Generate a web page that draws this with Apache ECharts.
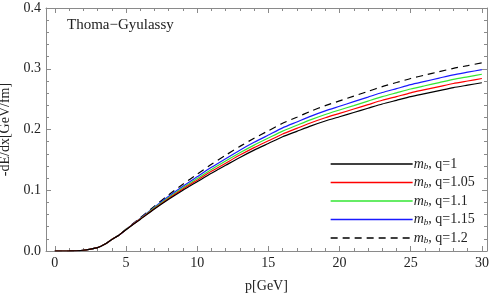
<!DOCTYPE html>
<html>
<head>
<meta charset="utf-8">
<script src="https://cdn.jsdelivr.net/npm/echarts@6/dist/echarts.min.js"></script>
<style>html,body{margin:0;padding:0;background:#fff}#c{width:491px;height:294px}</style>
</head>
<body>
<div id="c"></div>
<script>
// momentum p [GeV]
var P = [0,0.5,1,1.5,2,2.5,3,3.5,4,4.5,5,6,7,8,9,10,11,12,13,14,15,16,17,18,19,20,21,22,23,24,25,26,27,28,29,30];
// -dE/dx [GeV/fm]
var q100 = [0,0,0.0001,0.0004,0.0012,0.003,0.0055,0.011,0.019,0.026,0.035,0.052,0.069,0.085,0.100,0.114,0.128,0.141,0.154,0.166,0.177,0.188,0.197,0.206,0.214,0.221,0.228,0.235,0.242,0.248,0.254,0.259,0.264,0.269,0.273,0.277];
var q105 = [0,0,0.0001,0.0004,0.0012,0.003,0.0055,0.011,0.019,0.026,0.0352,0.0525,0.0700,0.0866,0.1021,0.1166,0.1311,0.1445,0.1579,0.1702,0.1814,0.1927,0.2019,0.2112,0.2194,0.2265,0.2337,0.2409,0.2481,0.2542,0.2604,0.2655,0.2706,0.2757,0.2798,0.2839];
var q110 = [0,0,0.0001,0.0004,0.0012,0.003,0.0055,0.011,0.019,0.026,0.0354,0.0530,0.0711,0.0882,0.1043,0.1192,0.1342,0.1481,0.1617,0.1743,0.1859,0.1974,0.2069,0.2163,0.2247,0.2321,0.2394,0.2468,0.2541,0.2604,0.2667,0.2720,0.2772,0.2825,0.2867,0.2909];
var q115 = [0,0,0.0001,0.0004,0.0012,0.003,0.0055,0.011,0.019,0.026,0.0355,0.0536,0.0722,0.0900,0.1066,0.1222,0.1377,0.1520,0.1660,0.1789,0.1908,0.2027,0.2124,0.2221,0.2307,0.2382,0.2458,0.2533,0.2609,0.2673,0.2738,0.2792,0.2846,0.2900,0.2943,0.2986];
var q120 = [0,0,0.0001,0.0004,0.0012,0.003,0.0055,0.011,0.019,0.026,0.0358,0.0545,0.0739,0.0925,0.1100,0.1264,0.1427,0.1576,0.1722,0.1856,0.1979,0.2102,0.2202,0.2303,0.2393,0.2471,0.2549,0.2627,0.2706,0.2773,0.2840,0.2896,0.2952,0.3007,0.3052,0.3097];

var seriesNames = ['q=1','q=1.05','q=1.1','q=1.15','q=1.2'];
var seriesValues = [q100,q105,q110,q115,q120];
var xMajor = [0,5,10,15,20,25,30];
var xMinor = [0,1,2,3,4,5,6,7,8,9,10,11,12,13,14,15,16,17,18,19,20,21,22,23,24,25,26,27,28,29,30];

var colors = ['#000000','#ff0000','#33e633','#1a1aff','#000000'];
var types = ['solid','solid','solid','solid','dashed'];

var FONT = '"Liberation Serif","Times New Roman",serif';
var axisColor = '#8a8a8a';
var txt = '#222';

function pairs(v){ return P.map(function(p,i){ return [p, v[i]]; }); }

var series = seriesValues.map(function(v,i){
  return {
    name: seriesNames[i], type:'line', data: pairs(v),
    xAxisIndex:0, yAxisIndex:0,
    showSymbol:false, symbol:'none', smooth:0.2,
    lineStyle:{color:colors[i], width:1.2, type: types[i]==='dashed'?[7,5]:'solid'},
    itemStyle:{color:colors[i]},
    emphasis:{disabled:true}, silent:true, z: 10-i
  };
});

var legendData = seriesNames.map(function(n,i){
  return {name:n, itemStyle:{opacity:0},
    lineStyle:{color:colors[i], width:1.3, type: types[i]==='dashed'?[7,5]:'solid'}};
});

function xAx(pos, vals, len, showLabel, showLine){
  return {
    type:'value', min:-0.62, max:30.36, position:pos,
    axisLine:{show:showLine, onZero:false, lineStyle:{color:axisColor, width:1}},
    axisTick:{show:true, inside:true, length:len, customValues: vals, lineStyle:{color:axisColor}},
    axisLabel:{show:showLabel, customValues: vals, margin:5, color:txt, fontFamily:FONT, fontSize:14},
    splitLine:{show:false}
  };
}
function yAx(pos, showLabel){
  return {
    type:'value', min:0, max:0.4, interval:0.1, position:pos,
    axisLine:{show:true, onZero:false, lineStyle:{color:axisColor, width:1}},
    axisTick:{show:true, inside:true, length:5, lineStyle:{color:axisColor}},
    minorTick:{show:true, splitNumber:5, length:3, lineStyle:{color:axisColor}},
    axisLabel:{show:showLabel, margin:5, color:txt, fontFamily:FONT, fontSize:14,
      formatter:function(v){ return v.toFixed(1); }},
    splitLine:{show:false}
  };
}

var xAxes = [xAx('bottom', xMajor, 5, true, true), xAx('bottom', xMinor, 3, false, false),
             xAx('top', xMajor, 5, false, true), xAx('top', xMinor, 3, false, false)];
xAxes[0].name = 'p[GeV]';
xAxes[0].nameLocation = 'middle';
xAxes[0].nameGap = 28;
xAxes[0].nameTextStyle = {color:txt, fontFamily:FONT, fontSize:14};

var yAxes = [yAx('left', true), yAx('right', false)];
yAxes[0].name = '-dE/dx[GeV/fm]';
yAxes[0].nameLocation = 'middle';
yAxes[0].nameGap = 30;
yAxes[0].nameRotate = 90;
yAxes[0].nameTextStyle = {color:txt, fontFamily:FONT, fontSize:14};

var chart = echarts.init(document.getElementById('c'), null, {renderer:'canvas'});
chart.setOption({
  animation:false,
  backgroundColor:'#ffffff',
  grid:{left:46, right:4, top:8, bottom:43, containLabel:false, outerBoundsMode:'none'},
  xAxis: xAxes,
  yAxis: yAxes,
  graphic:[{type:'text', left:67, top:18, style:{text:'Thoma\u2212Gyulassy', fill:txt, font:'15px '+FONT}}],
  legend:{
    orient:'vertical', left:325, top:152, itemWidth:82, itemHeight:14, itemGap:4,
    data: legendData,
    selectedMode:false,
    formatter:function(name){ return '{m|m}{b|b}{t|, ' + name + '}'; },
    textStyle:{color:txt, fontFamily:FONT, fontSize:14, padding:[0,0,0,-4],
      rich:{
        m:{fontStyle:'italic', fontFamily:FONT, fontSize:14, color:txt},
        b:{fontStyle:'italic', fontFamily:FONT, fontSize:9, color:txt, padding:[6,0,0,0]},
        t:{fontFamily:FONT, fontSize:14, color:txt}
      }}
  },
  series: series
});
</script>
</body>
</html>
